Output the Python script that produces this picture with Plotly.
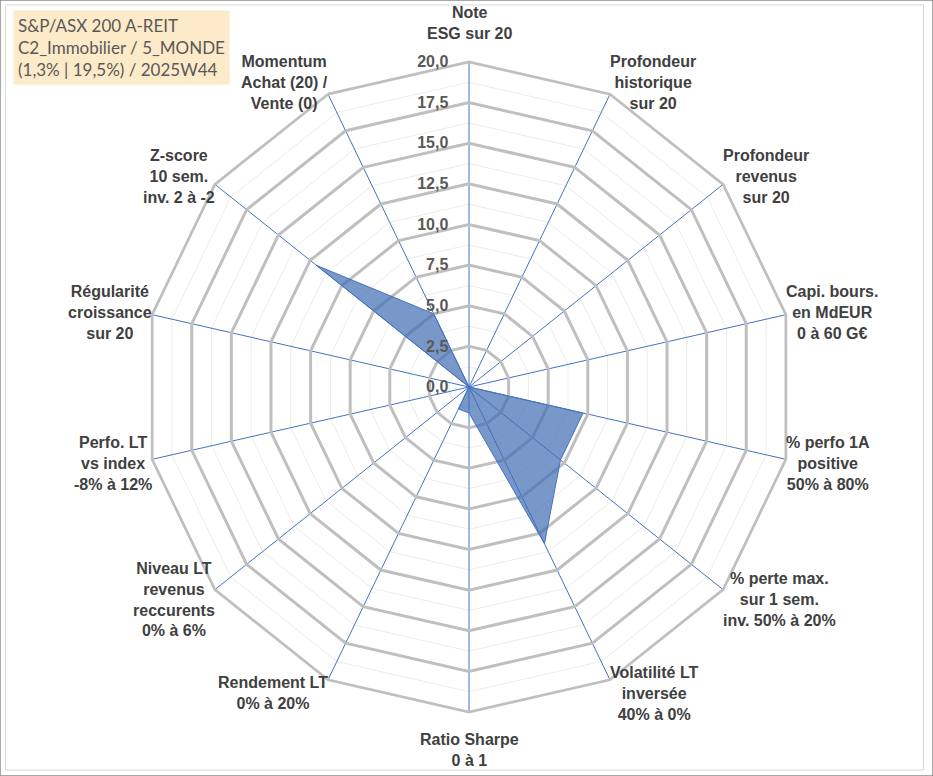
import math
import plotly.graph_objects as go

# axes of the radar, clockwise from the top
categories = [
    "Note<br>ESG sur 20",
    "Profondeur<br>historique<br>sur 20",
    "Profondeur<br>revenus<br>sur 20",
    "Capi. bours.<br>en MdEUR<br>0 à 60 G€",
    "% perfo 1A<br>positive<br>50% à 80%",
    "% perte max.<br>sur 1 sem.<br>inv. 50% à 20%",
    "Volatilité LT<br>inversée<br>40% à 0%",
    "Ratio Sharpe<br>0 à 1",
    "Rendement LT<br>0% à 20%",
    "Niveau LT<br>revenus<br>reccurents<br>0% à 6%",
    "Perfo. LT<br>vs index<br>-8% à 12%",
    "Régularité<br>croissance<br>sur 20",
    "Z-score<br>10 sem.<br>inv. 2 à -2",
    "Momentum<br>Achat (20) /<br>Vente (0)",
]
scores = [0, 0, 0, 0, 7.2, 7.2, 10.7, 1.6, 1.5, 0, 0, 0, 12.0, 5.0]

r_max = 20
major_step = 2.5
minor_step = 1.25

title_lines = ["S&P/ASX 200 A-REIT", "C2_Immobilier / 5_MONDE", "(1,3% | 19,5%) / 2025W44"]

W, H = 933, 776
cx, cy, rad = 469, 387, 325
dom_x = [(cx - rad) / W, (cx + rad) / W]
dom_y = [(H - cy - rad) / H, (H - cy + rad) / H]

fig = go.Figure()

# invisible trace so the minor-grid polar gets drawn
fig.add_scatterpolar(
    r=[0] * len(categories), theta=categories, mode="lines",
    line=dict(width=0), hoverinfo="skip", showlegend=False, subplot="polar",
)

closed_r = scores + scores[:1]
closed_t = categories + categories[:1]
fig.add_scatterpolar(
    r=closed_r, theta=closed_t, mode="lines", fill="toself",
    fillcolor="rgba(62,108,178,0.7)", line=dict(color="#4472C4", width=1),
    showlegend=False, subplot="polar2",
)

common_ang = dict(
    direction="clockwise", rotation=90, categoryorder="array",
    categoryarray=categories, ticks="", showticklabels=False,
)

# category labels placed next to the outer vertex, Excel style
annotations = []
n = len(categories)
for i, lab in enumerate(categories):
    a = 2 * math.pi * i / n
    s, c = math.sin(a), math.cos(a)
    vx = cx + rad * s
    vy = cy - rad * c
    if abs(s) < 0.1:
        xa, px = "center", vx
        py = vy - 39 if c > 0 else vy + 38
    else:
        xa = "left" if s > 0 else "right"
        px = vx + (-2 if s > 0 else 2)
        py = vy - 14 * c + 1
    annotations.append(dict(
        text=lab, x=px / W, y=1 - py / H, xref="paper", yref="paper",
        xanchor=xa, yanchor="middle", align="center", showarrow=False,
        font=dict(family="Liberation Sans", size=16, color="#404040", weight="bold"),
    ))

annotations.append(dict(
    text="<br>".join(title_lines), xref="paper", yref="paper",
    x=13 / W, y=1 - 10 / H, xanchor="left", yanchor="top", align="left",
    showarrow=False, bgcolor="#FDEAC8", borderpad=4,
    font=dict(family="Lato", size=17, color="#595959"),
))

fig.update_layout(
    width=W, height=H,
    margin=dict(l=0, r=0, t=0, b=0),
    paper_bgcolor="white",
    separators=", ",
    showlegend=False,
    polar=dict(
        domain=dict(x=dom_x, y=dom_y),
        gridshape="linear",
        bgcolor="white",
        radialaxis=dict(
            range=[0, r_max], dtick=minor_step, tick0=0, showticklabels=False,
            ticks="", showline=False, gridcolor="#EBEBEB", gridwidth=1,
        ),
        angularaxis=dict(showgrid=False, showline=False, **common_ang),
    ),
    polar2=dict(
        domain=dict(x=dom_x, y=dom_y),
        gridshape="linear",
        bgcolor="rgba(0,0,0,0)",
        radialaxis=dict(
            range=[0, r_max], dtick=major_step, tick0=0, tickformat=".1f",
            ticksuffix="\u00a0\u00a0\u00a0\u00a0",
            angle=90, tickangle=90, side="counterclockwise", ticks="",
            showline=False, gridcolor="#BFBFBF", gridwidth=2.7,
            tickfont=dict(family="Liberation Sans", size=16, color="#595959", weight="bold"),
        ),
        angularaxis=dict(
            showgrid=True, gridcolor="#4472C4", gridwidth=1.3,
            showline=True, linecolor="#BFBFBF", linewidth=2.7, **common_ang
        ),
    ),
    shapes=[
        dict(type="rect", xref="paper", yref="paper", x0=0, x1=1, y0=0, y1=1,
             line=dict(color="#8C8C8C", width=1.5)),
        dict(type="rect", xref="paper", yref="paper",
             x0=5.5 / W, x1=923.5 / W, y0=(H - 770) / H, y1=(H - 5) / H,
             line=dict(color="#D9D9D9", width=1)),
    ],
    annotations=annotations,
)

fig.write_html(
    "out.html",
    config={"displayModeBar": False},
    post_script="document.body.style.margin='0';",
)
